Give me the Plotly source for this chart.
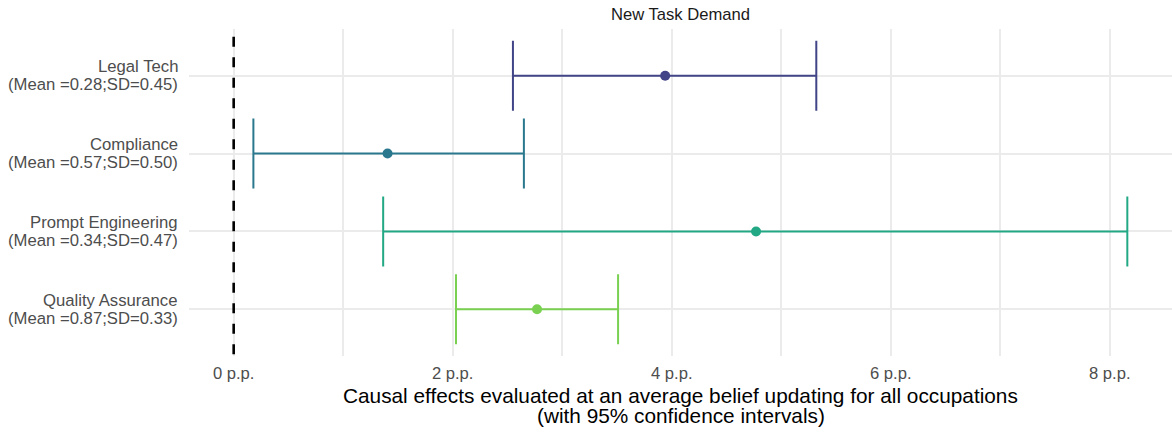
import plotly.graph_objects as go

categories = ["Legal Tech", "Compliance", "Prompt Engineering", "Quality Assurance"]
stats = ["(Mean =0.28;SD=0.45)", "(Mean =0.57;SD=0.50)", "(Mean =0.34;SD=0.47)", "(Mean =0.87;SD=0.33)"]
means = [3.94, 1.405, 4.77, 2.77]
lower = [2.55, 0.18, 1.365, 2.03]
upper = [5.32, 2.65, 8.16, 3.51]
colors = ["#414487", "#2A788E", "#22A884", "#7AD151"]
xticks = [0, 2, 4, 6, 8]
xticklabels = ["0 p.p.", "2 p.p.", "4 p.p.", "6 p.p.", "8 p.p."]
title_text = "New Task Demand"
xtitle_lines = ["Causal effects evaluated at an average belief updating for all occupations",
                "(with 95% confidence intervals)"]

FONT = "Liberation Sans, Arial, sans-serif"
n = len(categories)
ypos = [n - i for i in range(n)]

fig = go.Figure()
for i in range(n):
    fig.add_trace(go.Scatter(
        x=[means[i]], y=[ypos[i]], mode="markers",
        marker=dict(color=colors[i], size=10),
        error_x=dict(type="data", symmetric=False,
                     array=[upper[i] - means[i]], arrayminus=[means[i] - lower[i]],
                     color=colors[i], thickness=2, width=35),
        showlegend=False, hoverinfo="skip"))

fig.add_shape(type="line", x0=0, x1=0, y0=4.765, y1=0.3, xref="x", yref="y",
              line=dict(color="black", width=2.6, dash="10px,10.5px"), layer="above")

annotations = []
for i in range(n):
    annotations.append(dict(text=categories[i], xref="paper", yref="y", x=0, y=ypos[i],
                            xanchor="right", yanchor="middle", xshift=-9, yshift=9,
                            showarrow=False, font=dict(size=16.7, color="#4D4D4D", family=FONT)))
    annotations.append(dict(text=stats[i], xref="paper", yref="y", x=0, y=ypos[i],
                            xanchor="right", yanchor="middle", xshift=-9, yshift=-9,
                            showarrow=False, font=dict(size=16.7, color="#4D4D4D", family=FONT)))
for j, line in enumerate(xtitle_lines):
    annotations.append(dict(text=line, xref="paper", yref="paper", x=0.5, y=0,
                            xanchor="center", yanchor="middle", yshift=-39 - 20 * j,
                            showarrow=False, font=dict(size=20.8, color="black", family=FONT)))
annotations.append(dict(text=title_text, xref="paper", yref="paper", x=0.5, y=1,
                        xanchor="center", yanchor="middle", yshift=15,
                        showarrow=False, font=dict(size=16.6, color="#1A1A1A", family=FONT)))

fig.update_layout(
    width=1172, height=432,
    margin=dict(l=189, r=0, t=29, b=76),
    plot_bgcolor="white", paper_bgcolor="white",
    font=dict(family=FONT),
    annotations=annotations,
    xaxis=dict(range=[-0.408, 8.568], tickvals=xticks, ticktext=xticklabels,
               showgrid=True, gridcolor="#EBEBEB", gridwidth=1.6, zeroline=False,
               showline=False, ticks="", ticklabelstandoff=5,
               tickfont=dict(size=16.6, color="#4D4D4D"),
               minor=dict(dtick=1, tick0=0, showgrid=True, gridcolor="#EBEBEB", gridwidth=1.6)),
    yaxis=dict(range=[0.4, 4.6], tickvals=ypos, showticklabels=False,
               showgrid=True, gridcolor="#EBEBEB", gridwidth=1.6, zeroline=False,
               showline=False, ticks=""),
)

fig.write_html("out.html")
